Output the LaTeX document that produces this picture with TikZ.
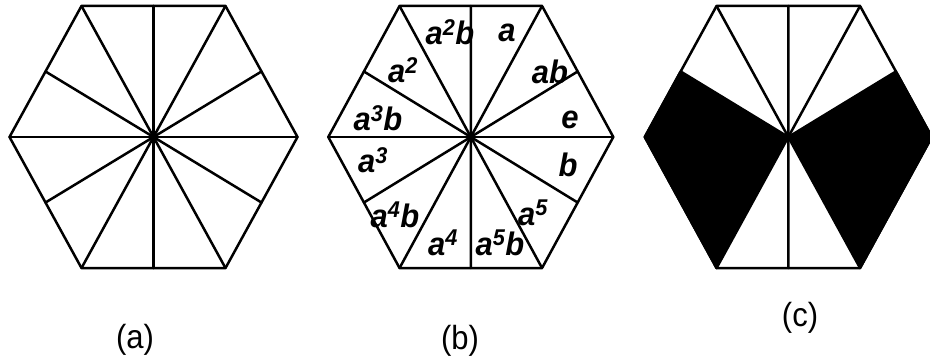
\documentclass[tikz,border=0pt]{standalone}
\usepackage{fontspec}
\setmainfont{Liberation Sans}
\usetikzlibrary{calc}
\tikzset{
  hexline/.style={line width=2.5pt, line join=round, line cap=round},
  grouplabel/.style={font=\fontsize{31}{31}\selectfont\bfseries\itshape, inner sep=0pt, yscale=1.05},
  caption/.style={font=\fontsize{31}{31}\selectfont, inner sep=0pt, yscale=1.08},
  shade/.style={fill=black, draw=black, line width=2.5pt, line join=round}
}
\begin{document}
\begin{tikzpicture}[x=1pt,y=-1pt]
\useasboundingbox (0,0) rectangle (930,360);
\fill[white] (0,0) rectangle (930,360);
% geometry of the three hexagons
\foreach \n/\cx/\rx in {A/153.5/144, B/470.8/142.5, C/788.3/143.5} {
  \coordinate (\n-c) at (\cx,137);
  \foreach \i in {0,...,5} {
    \coordinate (\n-v\i) at ({\cx+\rx*cos(60*\i)},{137-151.3*sin(60*\i)});
  }
  \foreach \i [evaluate=\i as \j using {int(mod(\i+1,6))}] in {0,...,5} {
    \coordinate (\n-m\i) at ($(\n-v\i)!0.5!(\n-v\j)$);
  }
}
% (a)
\draw[hexline] (A-v0) -- (A-v1) -- (A-v2) -- (A-v3) -- (A-v4) -- (A-v5) -- cycle;
\foreach \i in {0,...,5} {
  \draw[hexline] (A-c) -- (A-v\i);
  \draw[hexline] (A-c) -- (A-m\i);
}
% (b)
\draw[hexline] (B-v0) -- (B-v1) -- (B-v2) -- (B-v3) -- (B-v4) -- (B-v5) -- cycle;
\foreach \i in {0,...,5} {
  \draw[hexline] (B-c) -- (B-v\i);
  \draw[hexline] (B-c) -- (B-m\i);
}
\node[grouplabel] (l-a2b) at (450,32) {a\textsuperscript{2}b};
\node[grouplabel] (l-a) at (507,33) {a};
\node[grouplabel] (l-a2) at (403,70) {a\textsuperscript{2}};
\node[grouplabel] (l-ab) at (550,72) {ab};
\node[grouplabel] (l-a3b) at (378,118) {a\textsuperscript{3}b};
\node[grouplabel] (l-e) at (570,120) {e};
\node[grouplabel] (l-a3) at (373,160) {a\textsuperscript{3}};
\node[grouplabel] (l-b) at (568,165) {b};
\node[grouplabel] (l-a4b) at (395,215) {a\textsuperscript{4}b};
\node[grouplabel] (l-a5) at (533,213) {a\textsuperscript{5}};
\node[grouplabel] (l-a4) at (443,243) {a\textsuperscript{4}};
\node[grouplabel] (l-a5b) at (500,243) {a\textsuperscript{5}b};
% (c)
\filldraw[shade] (C-m2) -- (C-v3) -- (C-v4) -- (C-c) -- cycle;
\filldraw[shade] (C-m0) -- (C-v0) -- (C-v5) -- (C-c) -- cycle;
\draw[hexline] (C-v0) -- (C-v1) -- (C-v2) -- (C-v3) -- (C-v4) -- (C-v5) -- cycle;
\draw[hexline] (C-c) -- (C-v1);
\draw[hexline] (C-c) -- (C-v2);
\draw[hexline] (C-c) -- (C-m1);
\draw[hexline] (C-c) -- (C-m4);
% captions
\node[caption] (capA) at (135,340) {(a)};
\node[caption] (capB) at (460,341) {(b)};
\node[caption] (capC) at (800,318) {(c)};
\end{tikzpicture}
\end{document}
